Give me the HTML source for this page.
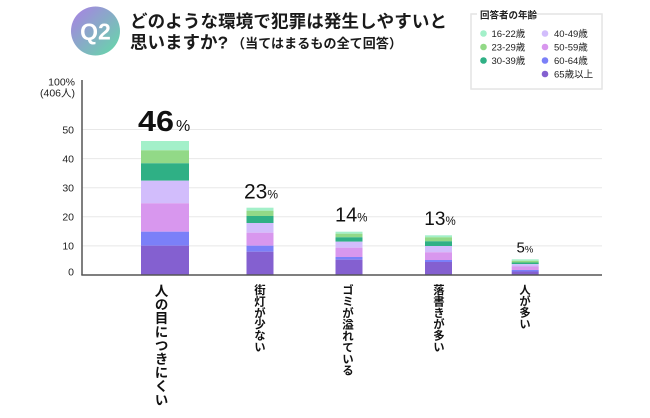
<!DOCTYPE html>
<html><head><meta charset="utf-8">
<style>
html,body{margin:0;padding:0;background:#fff;}
#w{position:relative;width:650px;height:418px;overflow:hidden;background:#fff;font-family:"Liberation Sans","Noto Sans CJK JP",sans-serif;}
svg{position:absolute;left:0;top:0;}
.v{position:absolute;writing-mode:vertical-rl;text-orientation:upright;font-family:"Noto Sans CJK JP","Liberation Sans",sans-serif;font-weight:bold;color:#111;white-space:nowrap;}
</style></head>
<body><div id="w">
<svg width="650" height="418" viewBox="0 0 650 418" xmlns="http://www.w3.org/2000/svg">
<defs>
<linearGradient id="g" x1="0" y1="0" x2="1" y2="1">
<stop offset="0" stop-color="#ab7ee6"/>
<stop offset="1" stop-color="#62dba6"/>
</linearGradient>
</defs>
<!-- Q2 badge -->
<circle cx="95.5" cy="31" r="24.5" fill="url(#g)"/>
<text x="95.5" y="39.5" text-anchor="middle" font-family="Liberation Sans, sans-serif" font-weight="bold" font-size="23" fill="#fff">Q2</text>
<!-- title -->
<text x="130" y="27.5" font-family="Liberation Sans, Noto Sans CJK JP, sans-serif" font-weight="bold" font-size="17.5" fill="#1a1a1a" textLength="317" lengthAdjust="spacing">どのような環境で犯罪は発生しやすいと</text>
<text x="130" y="48.5" font-family="Liberation Sans, Noto Sans CJK JP, sans-serif" font-weight="bold" font-size="17.5" fill="#1a1a1a">思いますか?</text>
<text x="232" y="48" font-family="Liberation Sans, Noto Sans CJK JP, sans-serif" font-weight="bold" font-size="13" fill="#1a1a1a" textLength="170" lengthAdjust="spacing">（当てはまるもの全て回答）</text>

<!-- legend -->
<rect x="471" y="14" width="131" height="75" fill="none" stroke="#e4e4e4" stroke-width="1.5"/>
<rect x="477" y="8" width="60" height="12" fill="#fff"/>
<text x="480" y="18.5" font-family="Liberation Sans, Noto Sans CJK JP, sans-serif" font-weight="bold" font-size="9.5" fill="#222">回答者の年齢</text>
<g font-family="Liberation Sans, Noto Sans CJK JP, sans-serif" font-size="9.5" fill="#222">
<circle cx="483.5" cy="33.5" r="3.3" fill="#a3f0c9"/><text x="491.5" y="37">16-22歳</text>
<circle cx="483.5" cy="47" r="3.3" fill="#92d987"/><text x="491.5" y="50.5">23-29歳</text>
<circle cx="483.5" cy="60.5" r="3.3" fill="#2fb085"/><text x="491.5" y="64">30-39歳</text>
<circle cx="545" cy="33.5" r="3.3" fill="#d2bdfc"/><text x="554" y="37">40-49歳</text>
<circle cx="545" cy="47" r="3.3" fill="#d897ee"/><text x="554" y="50.5">50-59歳</text>
<circle cx="545" cy="60.5" r="3.3" fill="#7b80f8"/><text x="554" y="64">60-64歳</text>
<circle cx="545" cy="74" r="3.3" fill="#8460d0"/><text x="554" y="77.5">65歳以上</text>
</g>

<!-- gridlines -->
<g stroke="#e8e8e8" stroke-width="1">
<line x1="82" y1="129.5" x2="602" y2="129.5"/>
<line x1="82" y1="158.6" x2="602" y2="158.6"/>
<line x1="82" y1="187.7" x2="602" y2="187.7"/>
<line x1="82" y1="216.8" x2="602" y2="216.8"/>
<line x1="82" y1="245.9" x2="602" y2="245.9"/>
</g>
<!-- y labels -->
<g font-family="Liberation Sans, Noto Sans CJK JP, sans-serif" font-size="10.5" fill="#222" text-anchor="end">
<text x="75" y="85.5">100%</text>
<text x="75" y="96.5">(406人)</text>
<text x="74" y="133.5">50</text>
<text x="74" y="162.5">40</text>
<text x="74" y="191.5">30</text>
<text x="74" y="220.5">20</text>
<text x="74" y="249.5">10</text>
<text x="74" y="275.5">0</text>
</g>

<!-- bars -->
<rect x="141" y="141" width="48" height="9.3" fill="#a3f0c9"/>
<rect x="141" y="150.3" width="48" height="13" fill="#92d987"/>
<rect x="141" y="163.3" width="48" height="17.4" fill="#2fb085"/>
<rect x="141" y="180.7" width="48" height="22.6" fill="#d2bdfc"/>
<rect x="141" y="203.3" width="48" height="28.4" fill="#d897ee"/>
<rect x="141" y="231.7" width="48" height="14" fill="#7b80f8"/>
<rect x="141" y="245.7" width="48" height="29.3" fill="#8460d0"/>

<rect x="246.5" y="207.7" width="27" height="3" fill="#a3f0c9"/>
<rect x="246.5" y="210.7" width="27" height="5.3" fill="#92d987"/>
<rect x="246.5" y="216" width="27" height="7" fill="#2fb085"/>
<rect x="246.5" y="223" width="27" height="9.7" fill="#d2bdfc"/>
<rect x="246.5" y="232.7" width="27" height="13" fill="#d897ee"/>
<rect x="246.5" y="245.7" width="27" height="6" fill="#7b80f8"/>
<rect x="246.5" y="251.7" width="27" height="23.3" fill="#8460d0"/>

<rect x="335.5" y="231.7" width="27" height="2" fill="#a3f0c9"/>
<rect x="335.5" y="233.7" width="27" height="3.6" fill="#92d987"/>
<rect x="335.5" y="237.3" width="27" height="4.4" fill="#2fb085"/>
<rect x="335.5" y="241.7" width="27" height="6" fill="#d2bdfc"/>
<rect x="335.5" y="247.7" width="27" height="9.3" fill="#d897ee"/>
<rect x="335.5" y="257" width="27" height="2.7" fill="#7b80f8"/>
<rect x="335.5" y="259.7" width="27" height="15.3" fill="#8460d0"/>

<rect x="425" y="235.3" width="27" height="2" fill="#a3f0c9"/>
<rect x="425" y="237.3" width="27" height="4" fill="#92d987"/>
<rect x="425" y="241.3" width="27" height="4.7" fill="#2fb085"/>
<rect x="425" y="246" width="27" height="6.3" fill="#d2bdfc"/>
<rect x="425" y="252.3" width="27" height="7.7" fill="#d897ee"/>
<rect x="425" y="260" width="27" height="2" fill="#7b80f8"/>
<rect x="425" y="262" width="27" height="13" fill="#8460d0"/>

<rect x="511.7" y="259.3" width="27" height="1.5" fill="#a3f0c9"/>
<rect x="511.7" y="260.8" width="27" height="1.7" fill="#92d987"/>
<rect x="511.7" y="262.5" width="27" height="1.6" fill="#2fb085"/>
<rect x="511.7" y="264.1" width="27" height="2.4" fill="#d2bdfc"/>
<rect x="511.7" y="266.5" width="27" height="3.5" fill="#d897ee"/>
<rect x="511.7" y="270" width="27" height="1.5" fill="#7b80f8"/>
<rect x="511.7" y="271.5" width="27" height="3.5" fill="#8460d0"/>

<!-- axes -->
<line x1="82" y1="80" x2="82" y2="275" stroke="#555" stroke-width="1.5"/>
<line x1="81.3" y1="275" x2="602" y2="275" stroke="#555" stroke-width="1.5"/>

<!-- value labels -->
<g font-family="Liberation Sans, sans-serif" fill="#111">
<text x="138" y="131" font-size="29" font-weight="bold" textLength="36" lengthAdjust="spacingAndGlyphs">46</text>
<text x="176" y="131" font-size="16">%</text>
<text x="244" y="198.3" font-size="21">23<tspan font-size="12">%</tspan></text>
<text x="335" y="221.7" font-size="20">14<tspan font-size="11.5">%</tspan></text>
<text x="424.3" y="225" font-size="19">13<tspan font-size="11.5">%</tspan></text>
<text x="516.5" y="252.7" font-size="15">5<tspan font-size="9.5">%</tspan></text>
</g>
</svg>

<div class="v" style="left:154.5px;top:284px;font-size:13.6px;line-height:14px;">人の目につきにくい</div>
<div class="v" style="left:254px;top:284px;font-size:11.4px;line-height:12px;">街灯が少ない</div>
<div class="v" style="left:342px;top:284px;font-size:11.5px;line-height:12px;">ゴミが溢れている</div>
<div class="v" style="left:433px;top:284px;font-size:11.4px;line-height:12px;">落書きが多い</div>
<div class="v" style="left:519px;top:284px;font-size:11.3px;line-height:12px;">人が多い</div>
</div></body></html>
